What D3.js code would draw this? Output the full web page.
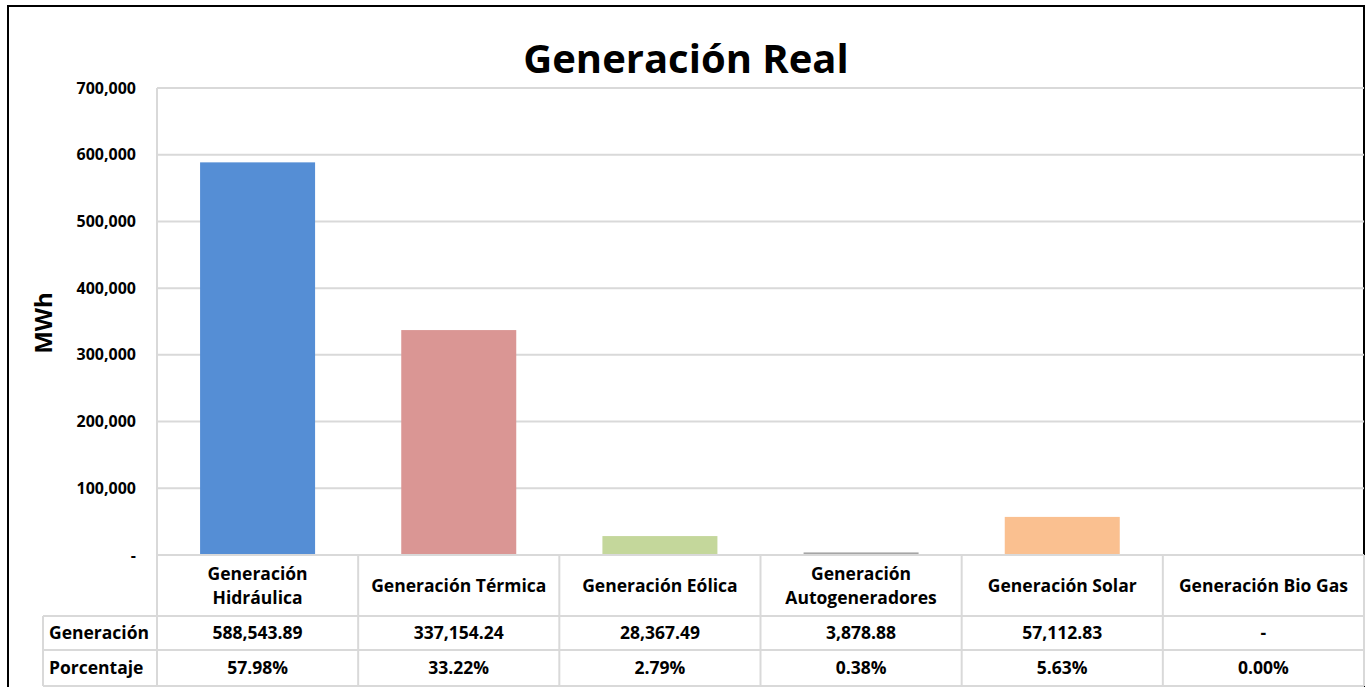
<!DOCTYPE html>
<html lang="es">
<head>
  <meta charset="UTF-8">
  <title>Generación Real</title>
  <script src="https://d3js.org/d3.v7.min.js"></script>
  <style>
    body { margin: 0; background: white; }
    svg text { font-family: "Open Sans", Lato, sans-serif; font-weight: bold; fill: black; }
    .grid line { stroke: #d9d9d9; stroke-width: 2; }
    .cell { stroke: #d9d9d9; stroke-width: 2; fill: none; }
  </style>
</head>
<body>
  <svg width="1366" height="687"></svg>
  <script>
    const categories = ["Generación Hidráulica", "Generación Térmica", "Generación Eólica",
                        "Generación Autogeneradores", "Generación Solar", "Generación Bio Gas"];
    const headerLines = [["Generación", "Hidráulica"], ["Generación Térmica"], ["Generación Eólica"],
                         ["Generación", "Autogeneradores"], ["Generación Solar"], ["Generación Bio Gas"]];
    const generacion = [588543.89, 337154.24, 28367.49, 3878.88, 57112.83, 0];
    const porcentaje = ["57.98%", "33.22%", "2.79%", "0.38%", "5.63%", "0.00%"];
    const colors = ["#558ed5", "#da9694", "#c4d79b", "#a5a5a5", "#fac090", "#b3a2c7"];
    const yTicks = [0, 100000, 200000, 300000, 400000, 500000, 600000, 700000];

    const svg = d3.select("svg");
    const plot = { left: 157, right: 1364, top: 88, bottom: 555 };
    const tableRows = [555, 616, 650, 686];
    const labelLeft = 43;
    const tableFont = "17.5px";

    // outer frame
    svg.append("rect").attr("x", 8).attr("y", 6).attr("width", 1356).attr("height", 700)
      .attr("fill", "none").attr("stroke", "black").attr("stroke-width", 2);

    svg.append("text").attr("x", 686).attr("y", 73).attr("text-anchor", "middle")
      .style("font-size", "40px").text("Generación Real");

    const x = d3.scaleBand().domain(categories).range([plot.left, plot.right]).paddingInner(0).paddingOuter(0);
    const y = d3.scaleLinear().domain([0, 700000]).range([plot.bottom, plot.top]);

    // gridlines
    const grid = svg.append("g").attr("class", "grid");
    grid.selectAll("line").data(yTicks).enter().append("line")
      .attr("x1", plot.left).attr("x2", plot.right)
      .attr("y1", d => y(d)).attr("y2", d => y(d));

    // y axis labels
    const fmt = d3.format(",");
    svg.append("g").selectAll("text").data(yTicks).enter().append("text")
      .attr("x", 136).attr("y", d => y(d)).attr("dy", "0.35em")
      .attr("text-anchor", "end").style("font-size", "16px")
      .text(d => d === 0 ? "-" : fmt(d));

    svg.append("text").attr("transform", "translate(52,323) rotate(-90)")
      .attr("text-anchor", "middle").style("font-size", "24px").text("MWh");

    // bars
    const barW = 115;
    svg.append("g").selectAll("rect").data(categories).enter().append("rect")
      .attr("x", d => x(d) + (x.bandwidth() - barW) / 2)
      .attr("width", barW)
      .attr("y", (d, i) => y(generacion[i]))
      .attr("height", (d, i) => y(0) - y(generacion[i]))
      .attr("fill", (d, i) => colors[i]);

    // data table
    const table = svg.append("g");
    table.append("line").attr("class", "cell").attr("x1", plot.left).attr("x2", plot.right)
      .attr("y1", tableRows[0]).attr("y2", tableRows[0]);
    tableRows.slice(1).forEach(r => {
      table.append("line").attr("class", "cell").attr("x1", labelLeft).attr("x2", plot.right)
        .attr("y1", r).attr("y2", r);
    });
    table.append("line").attr("class", "cell").attr("x1", labelLeft).attr("x2", labelLeft)
      .attr("y1", tableRows[1]).attr("y2", tableRows[3]);
    table.append("line").attr("class", "cell").attr("x1", plot.left).attr("x2", plot.left)
      .attr("y1", plot.top).attr("y2", tableRows[3]);
    categories.forEach(c => {
      table.append("line").attr("class", "cell").attr("x1", x(c) + x.bandwidth()).attr("x2", x(c) + x.bandwidth())
        .attr("y1", tableRows[0]).attr("y2", tableRows[3]);
    });

    // header text
    categories.forEach((c, i) => {
      const lines = headerLines[i];
      const cy = (tableRows[0] + tableRows[1]) / 2;
      const t = table.append("text").attr("text-anchor", "middle").style("font-size", tableFont);
      lines.forEach((l, j) => {
        t.append("tspan").attr("x", x(c) + x.bandwidth() / 2)
          .attr("y", cy + (j - (lines.length - 1) / 2) * 24).attr("dy", "0.35em").text(l);
      });
    });

    const genFmt = d3.format(",.2f");
    const rowLabels = ["Generación", "Porcentaje"];
    rowLabels.forEach((lbl, r) => {
      const cy = (tableRows[r + 1] + tableRows[r + 2]) / 2;
      table.append("text").attr("x", labelLeft + 6).attr("y", cy).attr("dy", "0.35em")
        .style("font-size", tableFont).text(lbl);
      categories.forEach((c, i) => {
        const v = r === 0 ? (generacion[i] === 0 ? "-" : genFmt(generacion[i])) : porcentaje[i];
        table.append("text").attr("x", x(c) + x.bandwidth() / 2).attr("y", cy).attr("dy", "0.35em")
          .attr("text-anchor", "middle").style("font-size", tableFont).text(v);
      });
    });
  </script>
</body>
</html>
